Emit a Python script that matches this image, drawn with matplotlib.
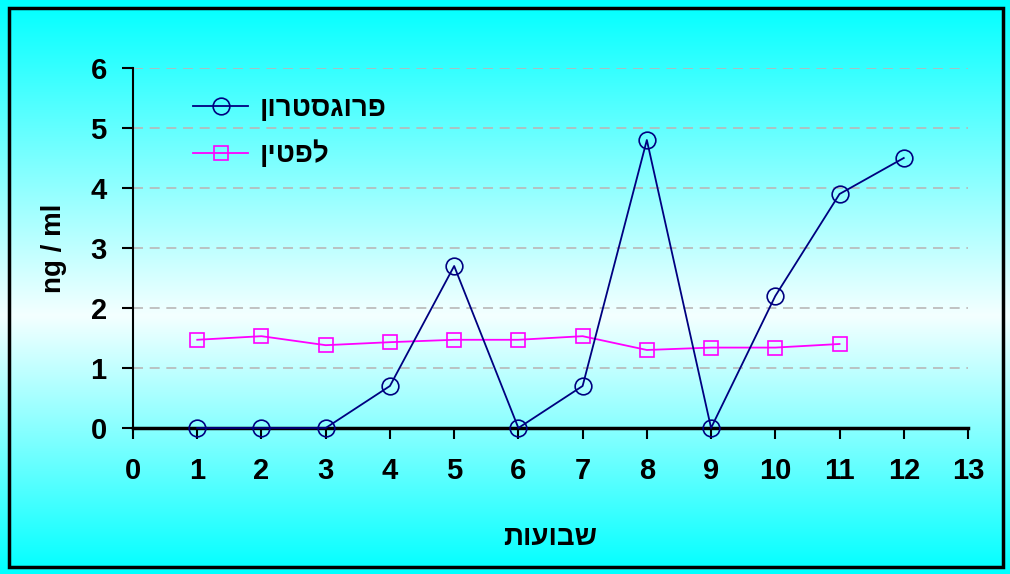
import matplotlib
matplotlib.use('Agg')
import matplotlib.pyplot as plt
import numpy as np
from matplotlib.colors import LinearSegmentedColormap
from matplotlib.patches import Rectangle

weeks = [1, 2, 3, 4, 5, 6, 7, 8, 9, 10, 11, 12]
progesterone = [0, 0, 0, 0.7, 2.7, 0, 0.7, 4.8, 0, 2.2, 3.9, 4.5]
leptin_weeks = [1, 2, 3, 4, 5, 6, 7, 8, 9, 10, 11]
leptin = [1.47, 1.53, 1.38, 1.43, 1.47, 1.47, 1.53, 1.3, 1.34, 1.34, 1.4]

x_ticks = list(range(0, 14))
y_ticks = list(range(0, 7))

label_prog = "פרוגסטרון"
label_leptin = "לפטין"
x_title = "שבועות"
y_title = "ng / ml"


def rtl(s):
    # matplotlib has no bidi support, so Hebrew is laid out reversed
    return s[::-1]


plt.rcParams['font.family'] = ['Liberation Sans', 'DejaVu Sans']
plt.rcParams['font.weight'] = 'bold'

fig = plt.figure(figsize=(10.1, 5.74), dpi=100)

# gradient backdrop: cyan at the edges, near white around the middle
bg = fig.add_axes([0, 0, 1, 1], zorder=0)
grad_cmap = LinearSegmentedColormap.from_list(
    "bg", [(0.0, "#00ffff"), (0.55, "#f4ffff"), (1.0, "#00ffff")])
bg.imshow(np.linspace(0, 1, 256).reshape(-1, 1), aspect='auto', cmap=grad_cmap,
          extent=[0, 1, 0, 1], origin='upper')
bg.add_patch(Rectangle((0.009, 0.013), 0.984, 0.973, fill=False,
                       edgecolor='black', linewidth=2.5))
bg.set_xlim(0, 1)
bg.set_ylim(0, 1)
bg.axis('off')

ax = fig.add_axes([0.1317, 0.2544, 0.8267, 0.6271], zorder=1)
ax.patch.set_alpha(0)

ax.plot(weeks, progesterone, color='#000080', linewidth=1.3, marker='o',
        markersize=12, markerfacecolor='none', markeredgecolor='#000080',
        markeredgewidth=1.2, label=rtl(label_prog), clip_on=False, zorder=4)
ax.plot(leptin_weeks, leptin, color='#ff00ff', linewidth=1.3, marker='s',
        markersize=10, markerfacecolor='none', markeredgecolor='#ff00ff',
        markeredgewidth=1.2, label=rtl(label_leptin), clip_on=False, zorder=3)

ax.set_xlim(0, 13)
ax.set_ylim(0, 6)
ax.set_xticks(x_ticks)
ax.set_yticks(y_ticks)
ax.tick_params(axis='both', labelsize=21, width=1.5, length=8, direction='out')
ax.tick_params(axis='x', pad=13)
ax.tick_params(axis='y', pad=11)

for y in y_ticks[1:]:
    ax.axhline(y, color='#b8b8b8', linewidth=1.2, linestyle=(0, (6, 4)),
               zorder=1)

for side in ('top', 'right'):
    ax.spines[side].set_visible(False)
ax.spines['left'].set_linewidth(1.5)
ax.spines['bottom'].set_linewidth(2.5)

ax.set_xlabel(rtl(x_title), fontsize=20, fontweight='bold', labelpad=29)
ax.set_ylabel(y_title, fontsize=20, fontweight='bold', labelpad=17)

ax.legend(loc='upper left', bbox_to_anchor=(0.055, 0.962), frameon=False,
          borderpad=0, handlelength=2.0, handletextpad=0.4, labelspacing=0.69,
          prop={'weight': 'bold', 'size': 20})

fig.savefig('out.png', dpi=100)
